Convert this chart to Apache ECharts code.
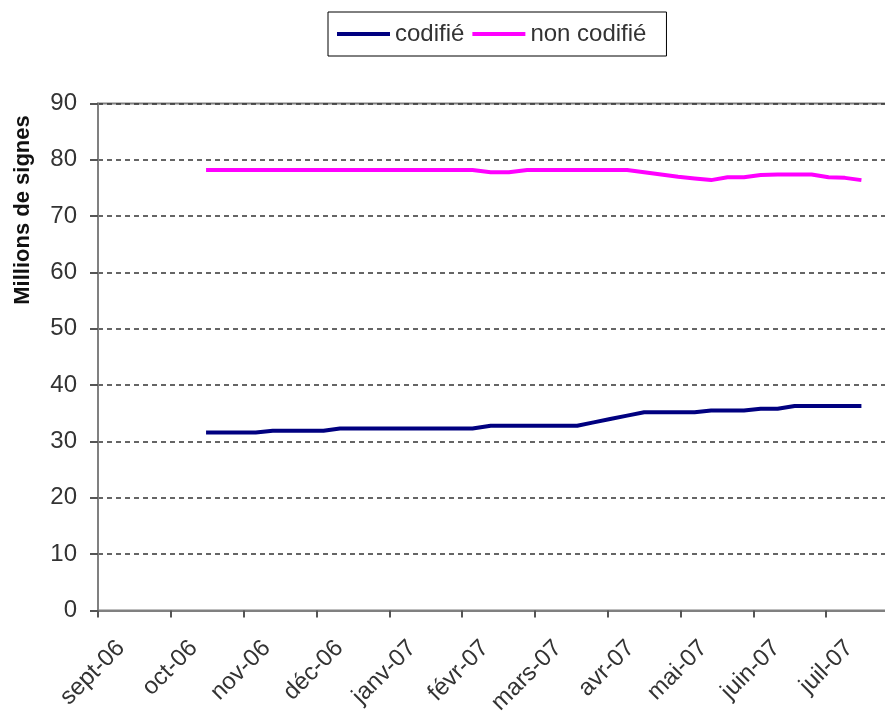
<!DOCTYPE html>
<html>
<head>
<meta charset="utf-8">
<script src="https://cdn.jsdelivr.net/npm/echarts@6/dist/echarts.min.js"></script>
<style>
  html, body { margin: 0; padding: 0; background: #fff; }
  #chart { width: 885px; height: 711px; }
</style>
</head>
<body>
<div id="chart"></div>
<script>
// Month labels along the time axis (one per month, starting September 2006)
const tickLabels = ['sept-06', 'oct-06', 'nov-06', 'déc-06', 'janv-07', 'févr-07',
                    'mars-07', 'avr-07', 'mai-07', 'juin-07', 'juil-07'];

// Weekly measurement dates
const weeks = [
  '2006-10-16', '2006-10-23', '2006-10-30', '2006-11-06', '2006-11-13', '2006-11-20',
  '2006-11-27', '2006-12-04', '2006-12-11', '2006-12-18', '2006-12-25', '2007-01-01',
  '2007-01-08', '2007-01-15', '2007-01-22', '2007-01-29', '2007-02-05', '2007-02-12',
  '2007-02-19', '2007-02-26', '2007-03-05', '2007-03-12', '2007-03-19', '2007-03-26',
  '2007-04-02', '2007-04-09', '2007-04-16', '2007-04-23', '2007-04-30', '2007-05-07',
  '2007-05-14', '2007-05-21', '2007-05-28', '2007-06-04', '2007-06-11', '2007-06-18',
  '2007-06-25', '2007-07-02', '2007-07-09', '2007-07-16'
];

// Millions of characters, coded
const codifie = [
  31.6, 31.6, 31.6, 31.6, 31.9, 31.9, 31.9, 31.9, 32.3, 32.3,
  32.3, 32.3, 32.3, 32.3, 32.3, 32.3, 32.3, 32.8, 32.8, 32.8,
  32.8, 32.8, 32.8, 33.4, 34.0, 34.6, 35.2, 35.2, 35.2, 35.2,
  35.5, 35.5, 35.5, 35.8, 35.8, 36.3, 36.3, 36.3, 36.3, 36.3
];

// Millions of characters, not coded
const nonCodifie = [
  78.2, 78.2, 78.2, 78.2, 78.2, 78.2, 78.2, 78.2, 78.2, 78.2,
  78.2, 78.2, 78.2, 78.2, 78.2, 78.2, 78.2, 77.8, 77.8, 78.2,
  78.2, 78.2, 78.2, 78.2, 78.2, 78.2, 77.8, 77.4, 77.0, 76.7,
  76.4, 76.9, 76.9, 77.3, 77.4, 77.4, 77.4, 76.9, 76.8, 76.4
];

// Position of a date on the month axis: each month gets the same width,
// 0 = 1 September 2006.
function monthPos(iso) {
  const [y, m, d] = iso.split('-').map(Number);
  const daysInMonth = new Date(y, m, 0).getDate();
  return (y - 2006) * 12 + (m - 1) - 8 + (d - 1) / daysInMonth;
}

const pairs = vals => weeks.map((w, i) => [monthPos(w), vals[i]]);

const FONT = '"Liberation Sans", Arial, sans-serif';
const chart = echarts.init(document.getElementById('chart'), null, { renderer: 'canvas' });

// The month names sit slightly to the right of their tick marks, so they are
// drawn by a second, label-only axis laid over a grid shifted by LABEL_SHIFT.
const LABEL_SHIFT = 23;
const PLOT = { left: 98, top: 103.5, bottom: 100.5, right: -14 };

chart.setOption({
  animation: false,
  backgroundColor: '#ffffff',
  textStyle: { fontFamily: FONT },
  legend: {
    top: 12,
    left: 328,
    padding: [10, 20, 10, 9],
    itemGap: 8,
    itemWidth: 53,
    itemHeight: 4,
    icon: 'rect',
    borderColor: '#000',
    borderWidth: 1,
    backgroundColor: '#fff',
    textStyle: { fontSize: 24, color: '#333', fontFamily: FONT },
    data: ['codifié', 'non codifié']
  },
  grid: [
    {
      left: PLOT.left, top: PLOT.top, bottom: PLOT.bottom, right: PLOT.right,
      show: true,
      borderColor: '#808080',
      borderWidth: 2,
      containLabel: false,
      outerBoundsMode: 'none'
    },
    {
      left: PLOT.left + LABEL_SHIFT, top: PLOT.top, bottom: PLOT.bottom,
      right: PLOT.right - LABEL_SHIFT,
      show: false,
      containLabel: false,
      outerBoundsMode: 'none'
    }
  ],
  xAxis: [
    {
      gridIndex: 0,
      type: 'value',
      min: 0,
      max: 11,
      interval: 1,
      axisLine: { show: true, lineStyle: { color: '#808080', width: 2 } },
      axisTick: { show: true, length: 7, lineStyle: { color: '#555', width: 2 } },
      splitLine: { show: false },
      axisLabel: { show: false }
    },
    {
      gridIndex: 1,
      type: 'value',
      min: 0,
      max: 11,
      interval: 1,
      axisLine: { show: false },
      axisTick: { show: false },
      splitLine: { show: false },
      axisLabel: {
        rotate: 45,
        margin: 34,
        fontSize: 24,
        color: '#333',
        fontFamily: FONT,
        showMinLabel: true,
        showMaxLabel: false,
        formatter: v => tickLabels[v] || ''
      }
    }
  ],
  yAxis: [
    {
      gridIndex: 0,
      type: 'value',
      min: 0,
      max: 90,
      interval: 10,
      axisLine: { show: true, lineStyle: { color: '#808080', width: 2 } },
      axisTick: { show: true, length: 8, lineStyle: { color: '#555', width: 2 } },
      axisLabel: { margin: 21, fontSize: 24, color: '#333', fontFamily: FONT },
      splitLine: { show: true, lineStyle: { color: '#333', width: 1.6, type: [5, 4] } }
    },
    {
      gridIndex: 1,
      type: 'value',
      min: 0,
      max: 90,
      show: false
    }
  ],
  graphic: [{
    type: 'text',
    x: 23,
    y: 210,
    rotation: Math.PI / 2,
    style: {
      text: 'Millions de signes',
      font: 'bold 22px ' + FONT,
      fill: '#111',
      align: 'center',
      verticalAlign: 'middle'
    }
  }],
  series: [
    {
      name: 'codifié',
      type: 'line',
      xAxisIndex: 0,
      yAxisIndex: 0,
      data: pairs(codifie),
      showSymbol: false,
      color: '#000080',
      lineStyle: { width: 4, color: '#000080' }
    },
    {
      name: 'non codifié',
      type: 'line',
      xAxisIndex: 0,
      yAxisIndex: 0,
      data: pairs(nonCodifie),
      showSymbol: false,
      color: '#ff00ff',
      lineStyle: { width: 4, color: '#ff00ff' }
    }
  ]
});
</script>
</body>
</html>
